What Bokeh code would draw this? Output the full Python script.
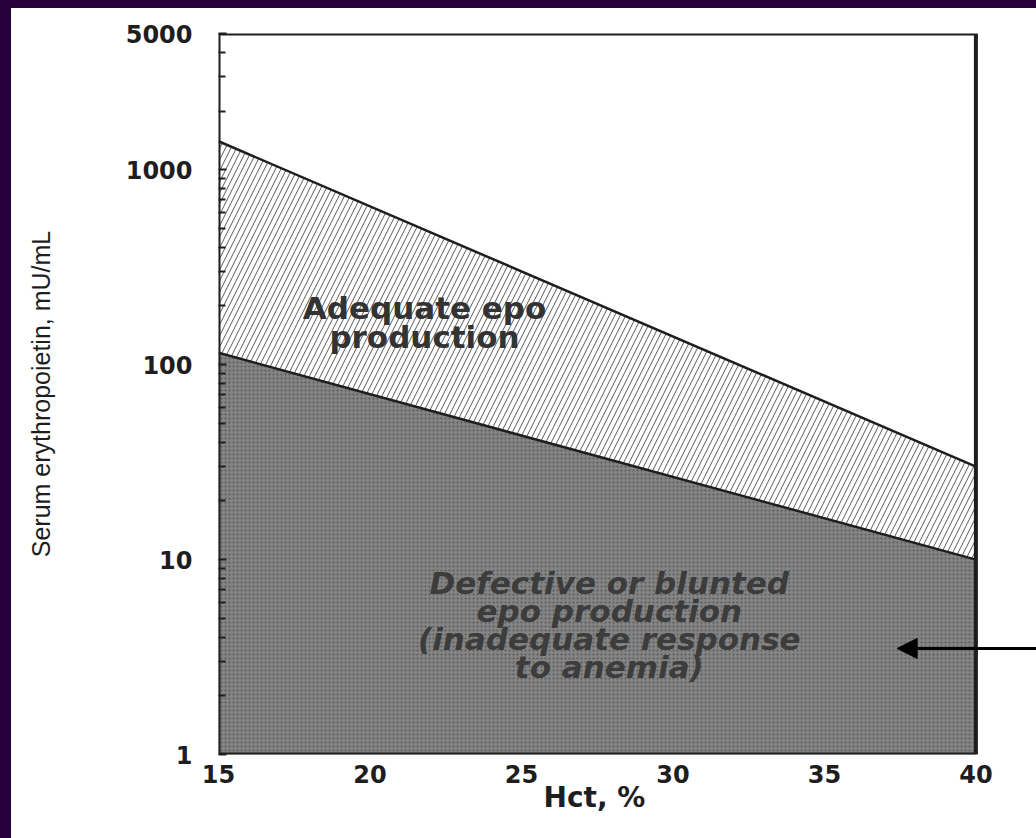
from bokeh.plotting import figure
from bokeh.models import Range1d, FixedTicker, Arrow, NormalHead, NumeralTickFormatter, Title
from bokeh.core.properties import value
from bokeh.embed import file_html
from bokeh.resources import INLINE

# ---- data ----
HCT = [15, 40]
UPPER = [1400, 30]      # upper boundary of adequate epo production
LOWER = [115, 10]       # lower boundary (defective / blunted)
Y_FLOOR = [1, 1]
X_MIN, X_MAX = 15, 40
Y_MIN, Y_MAX = 1, 5000
X_VIEW_END = 42.0       # canvas extends past the chart box for the arrow
X_TICKS = [15, 20, 25, 30, 35, 40]
Y_TICKS = [1, 10, 100, 1000, 5000]
Y_MINOR = [m * 10 ** e for e in range(4) for m in range(2, 10) if m * 10 ** e < 5000]

ADEQ_X = [21.8]
ADEQ_Y = [165]
ADEQ_TEXT = ["Adequate epo\nproduction"]
DEF_X = [27.9]
DEF_Y = [4.6]
DEF_TEXT = ["Defective or blunted\nepo production\n(inadequate response\nto anemia)"]
ARROW_START = (42.0, 3.5)
ARROW_END = (37.4, 3.5)

PURPLE = "#25003a"
INK = "#1e1e1e"

p = figure(width=1036, height=838, output_backend="svg", toolbar_location=None,
           y_axis_type="log", x_range=Range1d(X_MIN, X_VIEW_END), y_range=Range1d(Y_MIN, Y_MAX),
           min_border_left=207, min_border_top=25, min_border_right=11, min_border_bottom=92)
p.styles = {"border-left": f"11px solid {PURPLE}", "border-top": f"8px solid {PURPLE}"}
p.background_fill_color = "white"
p.border_fill_color = "white"
p.outline_line_color = None
p.grid.visible = False

# regions
p.varea(x=HCT, y1=Y_FLOOR, y2=LOWER, fill_color="#848484",
        hatch_pattern="dot", hatch_color="#585858", hatch_scale=4, hatch_weight=1)
p.varea(x=HCT, y1=LOWER, y2=UPPER, fill_color="white",
        hatch_pattern="/", hatch_color="#5a5a5a", hatch_scale=11, hatch_weight=1)
p.line(x=HCT, y=UPPER, line_color=INK, line_width=2.5)
p.line(x=HCT, y=LOWER, line_color=INK, line_width=2.5)

# chart box
p.line(x=[X_MIN, X_MAX, X_MAX, X_MIN, X_MIN], y=[Y_MIN, Y_MIN, Y_MAX, Y_MAX, Y_MIN],
       line_color=INK, line_width=4)

p.text(x=ADEQ_X, y=ADEQ_Y, text=ADEQ_TEXT, text_font=value("DejaVu Sans"),
       text_font_size="31px", text_font_style="bold", text_align="center",
       text_baseline="middle", text_color="#333333", text_line_height=0.82)
p.text(x=DEF_X, y=DEF_Y, text=DEF_TEXT, text_font=value("DejaVu Sans"),
       text_font_size="31px", text_font_style="bold italic", text_align="center",
       text_baseline="middle", text_color="#3c3c3c", text_line_height=0.78)

p.add_layout(Arrow(end=NormalHead(size=20, fill_color="black", line_color="black"),
                   x_start=ARROW_START[0], y_start=ARROW_START[1],
                   x_end=ARROW_END[0], y_end=ARROW_END[1],
                   line_color="black", line_width=3))

# axes
xa = p.xaxis[0]
xa.ticker = FixedTicker(ticks=X_TICKS)
xa.axis_line_color = None
xa.major_tick_in = 0
xa.major_tick_out = 0
xa.minor_tick_in = 0
xa.minor_tick_out = 0
xa.major_label_standoff = 10
xa.major_label_text_font = "DejaVu Sans"
xa.major_label_text_font_style = "bold"
xa.major_label_text_font_size = "24px"
xa.major_label_text_color = INK

p.add_layout(Title(text="Hct, %", align="left", offset=325, standoff=-14,
                   text_font="DejaVu Sans", text_font_style="bold",
                   text_font_size="28px", text_color=INK), "below")

ya = p.yaxis[0]
ya.ticker = FixedTicker(ticks=Y_TICKS, minor_ticks=Y_MINOR)
ya.formatter = NumeralTickFormatter(format="0")
ya.axis_line_color = None
ya.major_tick_in = 8
ya.major_tick_out = 0
ya.minor_tick_in = 7
ya.minor_tick_out = 0
ya.major_tick_line_color = INK
ya.minor_tick_line_color = INK
ya.major_tick_line_width = 2
ya.minor_tick_line_width = 2
ya.major_label_standoff = 26
ya.major_label_text_font = "DejaVu Sans"
ya.major_label_text_font_style = "bold"
ya.major_label_text_font_size = "24px"
ya.major_label_text_color = INK
ya.axis_label = "Serum erythropoietin, mU/mL"
ya.axis_label_text_font = "Liberation Sans"
ya.axis_label_text_font_style = "normal"
ya.axis_label_text_font_size = "25px"
ya.axis_label_text_color = INK
ya.axis_label_standoff = 68

open("out.html", "w").write(file_html(p, INLINE))
